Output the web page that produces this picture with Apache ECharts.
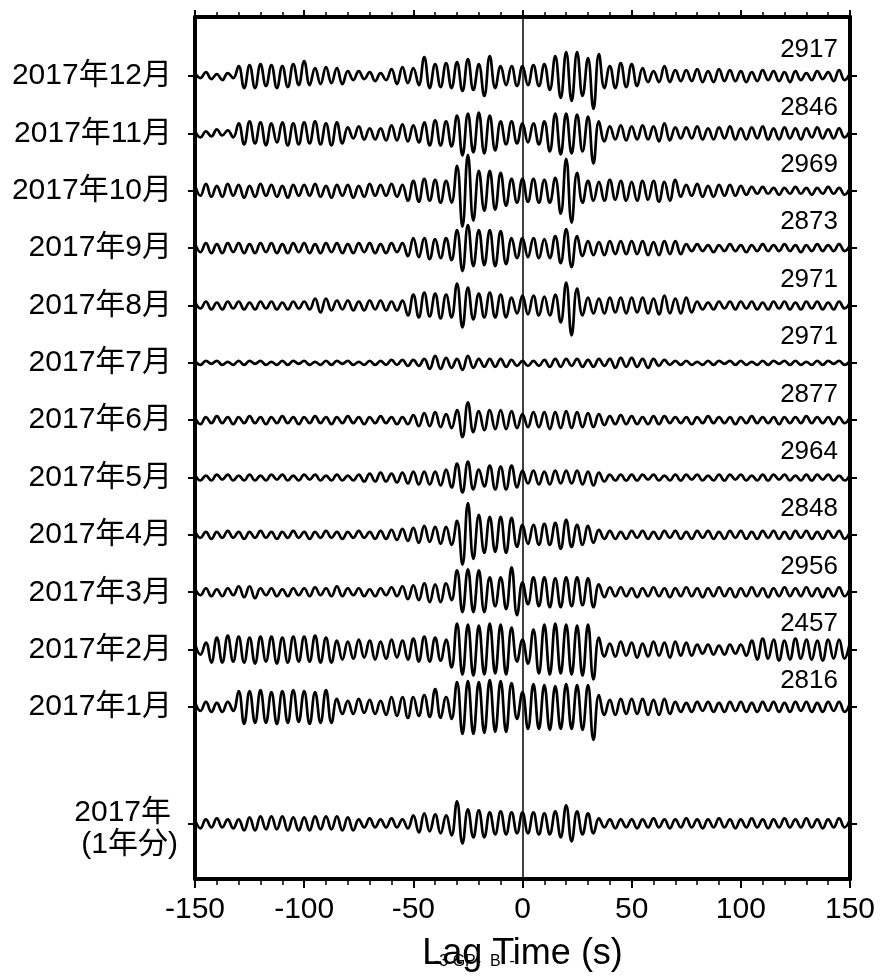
<!DOCTYPE html>
<html><head><meta charset="utf-8">
<script src="https://cdn.jsdelivr.net/npm/echarts@6/dist/echarts.min.js"></script>
<style>html,body{margin:0;padding:0;background:#fff}#c{width:882px;height:977px}</style>
</head><body><div id="c"></div>
<script>
// ---- data ----
const lagStart = -150, lagStep = 2.5;          // sample grid of every trace (s)
const xTickValues = [-150, -100, -50, 0, 50, 100, 150];
const traceLabels = ['2017年12月','2017年11月','2017年10月','2017年9月','2017年8月','2017年7月',
  '2017年6月','2017年5月','2017年4月','2017年3月','2017年2月','2017年1月','2017年\n(1年分)'];
const traceCounts = ['2917','2846','2969','2873','2971','2971','2877','2964','2848','2956','2457','2816'];

// amplitudes (pixel units of the reference), one sample every 2.5 s
const dec = [3,-2,4,-3,2,-4,3,-2,10,-12,11,-12,12,-10,11,-12,10,-11,12,-9,
  15,-9,8,-8,9,-7,8,-8,5,-4,5,-3,4,-5,3,-4,7,-8,9,-7,
  8,-9,19,-12,12,-11,13,-12,14,-15,17,-14,12,-20,20,-12,10,-9,10,-10,
  10,-9,11,-10,12,-14,20,-22,24,-25,24,-20,18,-33,22,-12,10,-12,13,-11,
  12,-10,8,-6,5,-6,10,-6,6,-5,6,-5,7,-6,5,-6,7,-5,6,-5,
  5,-6,4,-5,6,-4,5,-5,4,-6,5,-4,3,-4,5,-3,4,-5,6,-4,3];
const nov = [3,-4,2,-3,4,-2,3,-4,10,-11,12,-10,11,-12,10,-9,11,-12,10,-11,
  11,-10,12,-11,10,-12,11,-10,6,-5,7,-6,5,-6,5,-7,8,-7,9,-8,
  8,-9,11,-12,13,-12,12,-13,18,-22,20,-19,21,-20,18,-17,12,-11,12,-10,
  10,-9,10,-11,12,-18,20,-21,20,-20,19,-18,17,-30,12,-8,7,-6,8,-7,
  7,-6,8,-6,7,-8,10,-7,6,-5,6,-5,7,-6,5,-6,6,-5,7,-6,
  5,-6,6,-5,7,-6,5,-6,6,-5,5,-6,5,-4,6,-5,4,-5,5,-4,3];
const oct = [6,-5,7,-6,5,-6,7,-5,6,-7,5,-6,7,-5,6,-6,5,-7,6,-5,
  6,-5,7,-6,5,-7,6,-5,6,-7,5,-6,7,-5,6,-5,7,-6,6,-10,
  10,-11,12,-10,11,-12,10,-12,25,-36,36,-30,20,-20,20,-19,18,-15,12,-12,
  12,-11,12,-12,11,-12,13,-23,32,-32,18,-12,10,-10,9,-10,11,-9,10,-10,
  9,-10,10,-9,10,-11,9,-10,11,-6,6,-5,7,-6,5,-6,6,-5,6,-5,
  5,-4,4,-3,4,-3,3,-4,3,-3,4,-3,3,-4,3,-3,4,-3,3,-4,3];
const sep = [5,-4,5,-5,4,-5,5,-4,5,-5,4,-5,5,-4,5,-5,4,-5,5,-4,
  5,-5,4,-5,5,-4,5,-5,4,-5,5,-4,5,-5,4,-5,5,-4,5,-8,
  10,-9,10,-11,9,-10,10,-12,18,-23,23,-18,18,-17,18,-18,17,-16,10,-10,
  10,-9,10,-10,9,-10,12,-15,19,-19,12,-8,7,-7,6,-7,7,-6,7,-6,
  7,-6,7,-7,6,-7,7,-6,7,-6,4,-3,4,-3,3,-4,3,-3,4,-3,
  3,-4,3,-3,4,-3,3,-3,4,-3,3,-4,3,-3,4,-3,3,-3,4,-3,3];
const aug = [4,-3,4,-4,3,-4,4,-3,4,-4,3,-4,4,-3,4,-4,3,-4,4,-3,
  4,-4,7,-7,7,-5,5,-4,5,-5,4,-5,5,-4,5,-5,4,-5,5,-10,
  11,-12,13,-11,12,-13,11,-12,22,-22,18,-14,12,-12,13,-12,11,-12,8,-8,
  10,-9,10,-10,9,-10,11,-17,23,-30,17,-10,8,-8,7,-8,8,-7,8,-8,
  8,-7,8,-8,7,-9,10,-8,7,-8,8,-7,4,-4,3,-4,4,-3,4,-4,
  4,-3,4,-4,3,-4,4,-3,4,-4,3,-4,4,-3,4,-4,3,-4,4,-3,3];
const jul = [2,-2,2,-1,2,-2,1,-2,2,-2,2,-1,2,-2,1,-2,2,-2,2,-1,
  2,-2,1,-2,2,-2,2,-1,2,-2,1,-2,2,-2,2,-2,3,-2,3,-3,
  3,-3,4,-6,7,-6,5,-5,4,-7,7,-5,4,-4,4,-4,4,-4,3,-3,
  2,-3,2,-3,3,-4,4,-4,4,-3,4,-4,3,-4,4,-3,4,-5,5,-4,
  5,-4,4,-5,4,-3,3,-2,2,-2,2,-2,1,-2,2,-2,2,-1,2,-2,
  2,-2,1,-2,2,-2,2,-1,2,-2,2,-2,1,-2,2,-2,2,-1,2,-2,2];
const jun = [3,-4,3,-3,4,-3,3,-4,3,-3,4,-3,3,-4,3,-3,4,-3,3,-4,
  3,-3,4,-3,3,-4,3,-3,4,-3,3,-4,3,-3,4,-3,3,-4,3,-4,
  5,-6,7,-6,8,-7,6,-8,10,-17,18,-12,9,-10,10,-9,10,-9,9,-8,
  6,-7,8,-7,8,-9,8,-8,9,-8,8,-7,7,-7,6,-5,4,-4,5,-4,
  4,-4,3,-4,4,-4,4,-3,3,-3,3,-4,3,-3,4,-3,3,-3,3,-4,
  3,-3,4,-3,3,-3,3,-4,3,-3,3,-3,4,-3,3,-3,3,-4,3,-3,3];
const may = [3,-3,2,-3,3,-2,3,-3,2,-3,3,-3,2,-3,3,-2,3,-3,2,-3,
  3,-2,3,-3,2,-3,3,-3,2,-3,3,-4,4,-4,5,-4,4,-5,5,-6,
  6,-7,6,-7,6,-8,8,-10,14,-15,16,-12,8,-9,12,-12,11,-12,12,-10,
  7,-6,7,-7,6,-7,7,-6,7,-6,7,-7,6,-8,5,-4,3,-3,3,-3,
  3,-3,3,-2,3,-3,2,-3,3,-3,3,-2,3,-3,2,-3,3,-3,3,-2,
  3,-3,2,-3,3,-3,3,-2,3,-3,2,-3,3,-3,3,-2,3,-3,2,-3,3];
const apr = [4,-3,3,-4,3,-3,4,-3,3,-4,3,-3,4,-3,3,-4,3,-3,4,-3,
  3,-4,3,-3,4,-3,3,-4,3,-3,4,-3,3,-4,4,-4,5,-5,6,-6,
  7,-8,9,-7,8,-9,8,-10,14,-30,32,-24,20,-18,18,-17,18,-18,17,-12,
  10,-9,10,-10,11,-10,12,-14,15,-12,10,-10,9,-8,5,-4,4,-4,3,-4,
  4,-3,4,-4,3,-4,4,-3,4,-4,3,-4,4,-3,4,-4,3,-4,4,-3,
  4,-4,3,-4,4,-3,4,-4,3,-4,4,-3,4,-4,3,-4,4,-3,4,-4,3];
const mar = [4,-3,4,-4,3,-4,4,-3,6,-5,6,-6,4,-3,4,-4,3,-4,4,-3,
  4,-4,5,-3,4,-4,6,-4,4,-3,4,-4,3,-4,4,-3,5,-4,6,-7,
  7,-8,9,-10,8,-10,9,-8,22,-20,23,-20,22,-20,15,-14,15,-17,25,-23,
  10,-12,15,-14,15,-15,14,-15,15,-14,15,-13,14,-15,8,-5,5,-4,5,-4,
  4,-5,4,-4,5,-4,4,-5,4,-4,5,-4,4,-5,4,-4,5,-4,4,-5,
  4,-4,5,-4,4,-5,4,-4,5,-4,4,-4,5,-4,4,-5,4,-4,5,-4,4];
const feb = [6,-5,7,-13,12,-13,14,-12,13,-13,12,-14,13,-12,13,-14,12,-13,13,-12,
  13,-12,14,-13,12,-13,9,-10,8,-9,10,-8,9,-10,8,-9,10,-8,9,-10,
  11,-12,13,-12,12,-11,10,-18,26,-25,25,-26,24,-25,26,-24,25,-25,22,-12,
  10,-14,20,-24,25,-25,26,-24,25,-25,24,-26,25,-30,12,-7,6,-7,8,-6,
  7,-8,6,-7,8,-6,7,-8,8,-6,7,-6,5,-4,5,-5,4,-5,5,-4,
  5,-6,9,-10,11,-9,10,-11,9,-10,11,-9,10,-10,9,-11,10,-9,10,-9,8];
const jan = [5,-4,5,-5,4,-5,5,-4,16,-17,16,-16,17,-16,15,-17,16,-16,17,-15,
  16,-17,15,-16,17,-16,8,-7,6,-7,8,-6,7,-7,6,-8,10,-9,10,-11,
  10,-9,12,-10,18,-11,10,-12,25,-27,26,-27,25,-26,27,-25,26,-25,24,-12,
  15,-22,23,-22,22,-23,21,-22,23,-22,22,-23,22,-33,12,-8,7,-8,8,-7,
  8,-7,8,-8,7,-8,8,-7,5,-5,4,-5,5,-4,5,-5,4,-5,5,-4,
  5,-5,4,-5,5,-4,5,-5,4,-5,5,-4,5,-5,4,-5,5,-4,5,-5,4];
const annual = [4,-5,4,-4,5,-4,4,-5,4,-7,6,-7,7,-6,7,-6,7,-7,6,-7,
  6,-7,7,-6,7,-6,7,-7,6,-7,4,-4,5,-4,4,-4,5,-4,4,-5,
  8,-9,10,-8,9,-10,8,-12,22,-20,14,-14,13,-14,11,-11,12,-11,11,-10,
  11,-10,11,-11,10,-11,12,-14,18,-18,12,-11,10,-10,5,-4,4,-5,4,-4,
  4,-5,4,-4,5,-4,4,-5,4,-4,5,-4,4,-5,4,-4,5,-4,4,-5,
  4,-4,5,-4,4,-5,4,-4,5,-4,4,-4,5,-4,4,-5,4,-4,5,-4,4];

const traces = [dec, nov, oct, sep, aug, jul, jun, may, apr, mar, feb, jan, annual];

// ---- layout ----
const FONT = "'Liberation Sans', Arial, 'Noto Sans CJK JP', sans-serif";
const PX_PER_ROW = 57.57;
const rowPos = traces.map((_, k) => k < 12 ? 11 - k : -2.03);
const countPos = traceCounts.map((_, k) => rowPos[k] + 0.45);
const Y_MIN = -3.0, Y_MAX = 12.03;

function findIdx(arr, v) { let b = 0, d = 1e9; arr.forEach((p, i) => { const e = Math.abs(p - v); if (e < d) { d = e; b = i; } }); return b; }

const chart = echarts.init(document.getElementById('c'), null, { renderer: 'canvas' });
const axisLine = { show: true, onZero: false, lineStyle: { color: '#000', width: 4 } };

const series = traces.map((arr, k) => ({
  type: 'line',
  data: arr.map((v, i) => [lagStart + i * lagStep, rowPos[k] + v / PX_PER_ROW]),
  showSymbol: false, symbol: 'none', smooth: 0.45,
  lineStyle: { color: '#000', width: 2.7 },
  silent: true, z: 3
}));
series[0].markLine = {
  silent: true, symbol: 'none', label: { show: false },
  lineStyle: { color: '#000', width: 1.5, type: 'solid' },
  data: [{ xAxis: 0 }]
};

chart.setOption({
  animation: false,
  textStyle: { fontFamily: FONT, color: '#000' },
  grid: { left: 195, right: 32, top: 17, bottom: 94 },
  xAxis: [{
    type: 'value', min: -150, max: 150, interval: 50, position: 'bottom',
    axisLine,
    axisTick: { show: true, length: 9, lineStyle: { color: '#000', width: 2 } },
    minorTick: { show: true, splitNumber: 5, length: 6, lineStyle: { color: '#000', width: 1.5 } },
    axisLabel: { fontSize: 30, margin: 16, color: '#000', fontFamily: FONT,
      customValues: xTickValues },
    splitLine: { show: false },
    name: 'Lag Time (s)', nameLocation: 'middle', nameGap: 57,
    nameTextStyle: { fontSize: 36, color: '#000', fontFamily: FONT }
  }, {
    type: 'value', min: -150, max: 150, interval: 50, position: 'top',
    axisLine,
    axisTick: { show: true, length: 7, lineStyle: { color: '#000', width: 2 } },
    minorTick: { show: true, splitNumber: 5, length: 5, lineStyle: { color: '#000', width: 1.5 } },
    axisLabel: { show: false }, splitLine: { show: false }
  }],
  yAxis: [{
    type: 'value', min: Y_MIN, max: Y_MAX, position: 'left',
    axisLine,
    axisTick: { show: true, customValues: rowPos, length: 7, lineStyle: { color: '#000', width: 2 } },
    axisLabel: {
      customValues: rowPos, margin: 17, fontSize: 30, color: '#000', fontFamily: FONT,
      formatter: v => {
        const k = findIdx(rowPos, v);
        if (k === 12) { const p = traceLabels[12].split('\n'); return '{a|' + p[0] + '}\n{b|' + p[1] + '}'; }
        return '{m|' + traceLabels[k] + '}';
      },
      rich: {
        m: { fontSize: 30, fontFamily: FONT, color: '#000', padding: [0, 6, 0, 0] },
        a: { fontSize: 30, lineHeight: 43, fontFamily: FONT, color: '#000', padding: [22, 7, 0, 0] },
        b: { fontSize: 30, lineHeight: 43, fontFamily: FONT, color: '#000' }
      }
    },
    splitLine: { show: false }
  }, {
    type: 'value', min: Y_MIN, max: Y_MAX, position: 'right',
    axisLine,
    axisTick: { show: true, customValues: rowPos, length: 7, lineStyle: { color: '#000', width: 2 } },
    axisLabel: {
      inside: true, customValues: countPos, margin: 12, fontSize: 26, color: '#000', fontFamily: FONT,
      formatter: v => traceCounts[findIdx(countPos, v)]
    },
    splitLine: { show: false }
  }],
  graphic: [{
    type: 'text', left: 434, top: 954, silent: true,
    style: { text: '-3 GP-  B  -', fontSize: 16, fill: '#000', fontFamily: FONT }
  }],
  series
});
</script>
</body></html>
